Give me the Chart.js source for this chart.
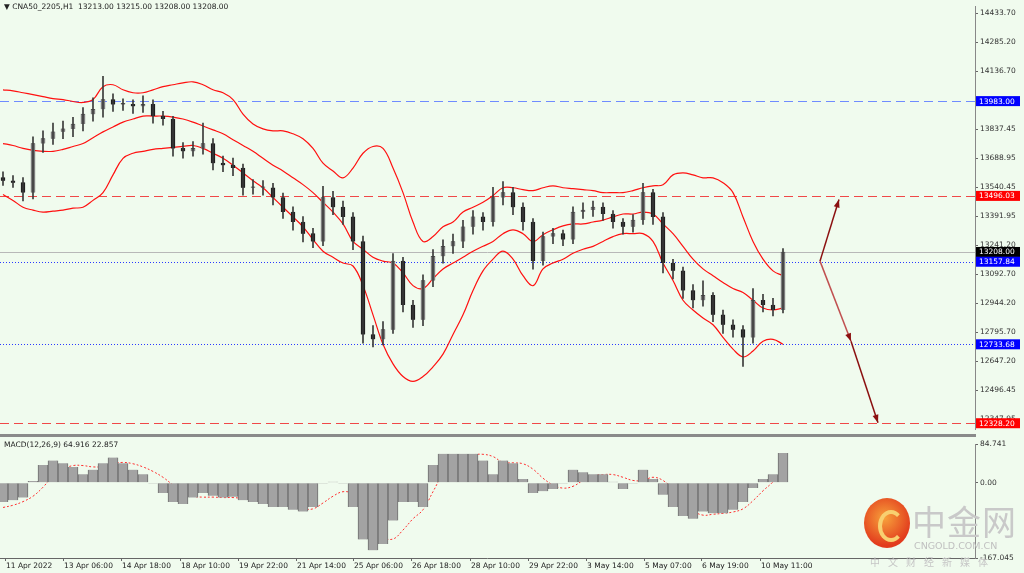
<!DOCTYPE html>
<html><head><meta charset="utf-8">
<script src="https://cdn.jsdelivr.net/npm/chart.js@4"></script>
<style>
body{margin:0;background:#f0fbee;width:1024px;height:573px;overflow:hidden;position:relative;font-family:"DejaVu Sans",sans-serif}
#c1{position:absolute;left:0;top:0}
#c2{position:absolute;left:0;top:438px}
#sep{position:absolute;left:0;top:434px;width:976px;height:3px;background:#8a8a8a}
#title{position:absolute;left:4px;top:2px;font-size:7.5px;color:#222}
#wm{position:absolute;left:860px;top:492px;width:160px;height:80px;pointer-events:none}
</style></head><body>
<canvas id="c1" width="1024" height="436"></canvas>
<div id="sep"></div>
<canvas id="c2" width="1024" height="135"></canvas>
<div id="title">▼ CNA50_2205,H1&nbsp; 13213.00 13215.00 13208.00 13208.00</div>
<div id="wm">
 <div style="position:absolute;left:4px;top:6px;width:46px;height:50px;border-radius:50%;background:radial-gradient(circle at 45% 40%,#f7a23b,#e23b1d 70%)"></div>
 <div style="position:absolute;left:18px;top:18px;width:18px;height:24px;border-radius:50%;border:4px solid #f8d070;border-right-color:transparent"></div>
 <div style="position:absolute;left:52px;top:4px;font-family:'Noto Sans CJK SC';font-size:34px;color:#c9c9c9;letter-spacing:1px">中金网</div>
 <div style="position:absolute;left:54px;top:48px;font-size:9.5px;color:#c0c0c0">CNGOLD.COM.CN</div>
 <div style="position:absolute;left:10px;top:62px;font-family:'Noto Sans CJK SC';font-size:10px;color:#c6c6c6;letter-spacing:8px">中文财经新媒体</div>
</div>
<script>
const closes=[13574,13564,13513,13765,13790,13825,13840,13865,13916,13941,13991,13966,13966,13956,13966,13906,13891,13740,13725,13740,13765,13664,13654,13639,13538,13538,13538,13488,13413,13362,13302,13262,13488,13438,13388,13262,12784,12759,12809,13161,12935,12860,13061,13186,13237,13262,13337,13388,13362,13488,13513,13438,13362,13161,13287,13302,13272,13413,13423,13438,13403,13362,13337,13372,13513,13388,13151,13111,13010,12960,12985,12885,12834,12809,12769,12960,12935,12910,13208];
const firstOpen=13590;
const highs=[13620,13600,13590,13800,13830,13870,13880,13900,13950,14000,14110,14020,13995,13990,14010,13990,13930,13905,13770,13775,13870,13790,13700,13690,13660,13580,13575,13560,13510,13440,13390,13330,13545,13520,13470,13410,13290,12830,12850,13200,13180,12960,13090,13220,13270,13300,13370,13420,13410,13540,13570,13540,13460,13380,13310,13330,13320,13440,13460,13470,13460,13420,13380,13400,13560,13530,13410,13170,13130,13040,13060,13000,12910,12860,12830,13020,12990,12970,13225];
const lows=[13550,13540,13470,13480,13720,13760,13790,13800,13830,13880,13900,13930,13935,13920,13925,13870,13860,13700,13690,13700,13710,13630,13620,13600,13500,13505,13500,13450,13380,13320,13260,13230,13240,13400,13350,13220,12740,12720,12730,12790,12900,12820,12830,13030,13150,13200,13230,13300,13320,13340,13450,13400,13320,13120,13140,13250,13240,13250,13380,13390,13370,13330,13300,13310,13350,13350,13100,13070,12970,12920,12930,12850,12790,12770,12620,12740,12900,12880,12895];
const bbUpper=[14041,14036,14026,14016,14006,13996,13991,13981,13976,13991,14057,14067,14041,14026,14026,14041,14057,14067,14077,14082,14067,14041,14026,13991,13916,13865,13840,13830,13830,13815,13790,13740,13664,13624,13589,13639,13715,13750,13740,13639,13513,13362,13262,13287,13337,13362,13413,13438,13463,13498,13538,13538,13528,13523,13538,13548,13538,13533,13528,13523,13513,13513,13513,13523,13538,13548,13553,13604,13614,13604,13589,13589,13564,13513,13388,13262,13171,13111,13086];
const bbMiddle=[13765,13755,13740,13730,13725,13725,13735,13750,13765,13795,13825,13850,13875,13891,13906,13906,13906,13901,13891,13875,13855,13835,13815,13785,13755,13725,13689,13654,13624,13589,13554,13513,13463,13413,13352,13262,13222,13181,13161,13151,13101,13035,13020,13071,13121,13151,13181,13212,13237,13262,13302,13322,13302,13262,13297,13322,13342,13352,13352,13362,13372,13388,13403,13403,13413,13403,13352,13302,13237,13171,13121,13086,13051,13020,13000,12960,12920,12910,12920];
const bbLower=[13503,13473,13438,13423,13413,13418,13423,13433,13438,13473,13513,13604,13689,13715,13725,13735,13740,13745,13750,13755,13740,13715,13689,13654,13614,13574,13538,13488,13438,13388,13337,13272,13212,13181,13151,13136,13035,12885,12734,12633,12568,12543,12568,12618,12683,12784,12885,13010,13111,13171,13212,13171,13086,13035,13121,13151,13171,13201,13222,13237,13262,13287,13302,13302,13302,13262,13151,13061,12960,12910,12869,12834,12769,12709,12669,12699,12749,12759,12734];
const macdHist=[-43,-39,-33,4,39,49,43,35,19,29,43,56,43,29,19,-2,-23,-43,-47,-33,-23,-29,-33,-31,-39,-43,-47,-54,-54,-60,-64,-54,-2,2,-2,-54,-126,-150,-136,-84,-43,-43,-54,39,64,64,64,64,49,19,49,43,8,-23,-19,-14,-2,29,23,19,19,2,-14,-2,29,8,-27,-54,-74,-80,-64,-68,-68,-60,-43,-12,8,19,66];
const macdSignal=[-55,-50,-42,-30,-10,15,30,38,38,35,36,42,45,42,35,25,12,-5,-20,-30,-32,-32,-33,-33,-35,-38,-42,-46,-50,-54,-58,-58,-45,-30,-20,-25,-50,-90,-120,-125,-105,-80,-60,-20,20,45,58,62,63,58,45,44,42,30,10,-5,-12,-8,5,15,18,18,12,5,5,12,5,-15,-40,-62,-72,-70,-68,-65,-58,-40,-18,2,30];
const priceTicks=[14433.70,14285.20,14136.70,13837.45,13688.95,13540.45,13391.95,13241.20,13092.70,12944.20,12795.70,12647.20,12496.45,12347.95];
const levels=[{v:13983.00,c:'#0000ff',line:'#6f8cff',dash:[9,5]},{v:13496.03,c:'#ff0000',line:'#f04848',dash:[9,5]},{v:13208.00,c:'#000000',line:'#b8b8b8',dash:[]},{v:13157.84,c:'#0000ff',line:'#2a3aff',dash:[1,2]},{v:12733.68,c:'#0000ff',line:'#2a3aff',dash:[1,2]},{v:12328.20,c:'#ff0000',line:'#f04848',dash:[9,5]}];
const arrowUp=[{x:81.7,y:13161},{x:83.6,y:13478}];
const arrowDown1=[{x:81.7,y:13161},{x:84.8,y:12749}];
const arrowDown2=[{x:84.8,y:12749},{x:87.5,y:12331}];
const timeLabels=['11 Apr 2022','13 Apr 06:00','14 Apr 18:00','18 Apr 10:00','19 Apr 22:00','21 Apr 14:00','25 Apr 06:00','26 Apr 18:00','28 Apr 10:00','29 Apr 22:00','3 May 14:00','5 May 07:00','6 May 19:00','10 May 11:00'];
const timeIdx=[0.2,6.0,11.8,17.7,23.5,29.3,35.0,40.8,46.7,52.5,58.3,64.1,69.8,75.7];
const macdTicks=[84.741,0,-167.045];

const opens=closes.map((c,i)=>i===0?firstOpen:closes[i-1]);
const XMIN=-0.3,XMAX=97.2;
const font='"DejaVu Sans"';

const overlay1={id:'ov1',
 beforeDatasetsDraw(ch){const {ctx,chartArea:a,scales:{y}}=ch;ctx.save();
  levels.forEach(l=>{const py=Math.round(y.getPixelForValue(l.v))+0.5;ctx.strokeStyle=l.line;ctx.lineWidth=1;ctx.setLineDash(l.dash);ctx.beginPath();ctx.moveTo(a.left,py);ctx.lineTo(a.right,py);ctx.stroke();});
  ctx.restore();},
 afterDraw(ch){const {ctx,chartArea:a,scales:{x,y}}=ch;ctx.save();
  ctx.font='7.5px '+font;ctx.textBaseline='middle';
  levels.forEach(l=>{const py=y.getPixelForValue(l.v);ctx.fillStyle=l.c;ctx.fillRect(a.right+1,py-5,44,10);ctx.fillStyle='#fff';ctx.fillText(l.v.toFixed(2),a.right+4,py+0.5);});
  const heads=[arrowUp,arrowDown1,arrowDown2];
  heads.forEach(s=>{const p0={x:x.getPixelForValue(s[0].x),y:y.getPixelForValue(s[0].y)},p1={x:x.getPixelForValue(s[1].x),y:y.getPixelForValue(s[1].y)};
   const ang=Math.atan2(p1.y-p0.y,p1.x-p0.x);ctx.fillStyle='#8b1010';ctx.beginPath();ctx.moveTo(p1.x,p1.y);
   ctx.lineTo(p1.x-8*Math.cos(ang)+3*Math.sin(ang),p1.y-8*Math.sin(ang)-3*Math.cos(ang));
   ctx.lineTo(p1.x-8*Math.cos(ang)-3*Math.sin(ang),p1.y-8*Math.sin(ang)+3*Math.cos(ang));ctx.closePath();ctx.fill();});
  ctx.restore();}};

const line=(d,col,w)=>({type:'line',data:d,borderColor:col,borderWidth:w,pointRadius:0,tension:0.4,fill:false});
new Chart(document.getElementById('c1'),{
 data:{datasets:[
  {type:'bar',data:highs.map((h,i)=>({x:i,y:[lows[i],h]})),backgroundColor:'#3a3a3a',barThickness:1,grouped:false},
  {type:'bar',data:closes.map((c,i)=>({x:i,y:[opens[i],c]})),backgroundColor:closes.map((c,i)=>c>=opens[i]?'#8c8c8c':'#1a1a1a'),borderColor:'#2a2a2a',borderWidth:0.5,barThickness:4,minBarLength:1,grouped:false},
  line(bbUpper.map((v,i)=>({x:i,y:v})),'#ff1010',1.2),
  line(bbMiddle.map((v,i)=>({x:i,y:v})),'#ff1010',1.2),
  line(bbLower.map((v,i)=>({x:i,y:v})),'#ff1010',1.2),
  {...line(arrowUp,'#8b1010',1.5),tension:0},
  {...line(arrowDown1,'#c05050',1.5),tension:0},
  {...line(arrowDown2,'#8b1010',1.5),tension:0}
 ]},
 options:{responsive:false,animation:false,events:[],layout:{padding:{top:0,bottom:3,left:0,right:0}},
  plugins:{legend:{display:false},tooltip:{enabled:false}},
  scales:{
   x:{type:'linear',min:XMIN,max:XMAX,offset:false,display:false},
   y:{position:'right',min:12296,max:14469,grid:{drawOnChartArea:false,tickLength:3,color:'#666'},border:{color:'#888',width:1},
    afterBuildTicks(s){s.ticks=priceTicks.map(v=>({value:v}));},
    afterFit(s){s.width=49;},
    ticks:{autoSkip:false,padding:2,color:'#333',font:{size:7.5,family:'DejaVu Sans'},callback:v=>v.toFixed(2)}}
  }},
 plugins:[overlay1]});

const overlay2={id:'ov2',afterDraw(ch){const {ctx,chartArea:a,scales:{x}}=ch;ctx.save();ctx.font='7.5px '+font;ctx.fillStyle='#222';ctx.textBaseline='top';
  ctx.fillText('MACD(12,26,9) 64.916 22.857',4,3);
  ctx.strokeStyle='#666';ctx.beginPath();ctx.moveTo(0,a.bottom+0.5);ctx.lineTo(a.right,a.bottom+0.5);ctx.stroke();
  timeLabels.forEach((t,i)=>{const px=x.getPixelForValue(timeIdx[i]);ctx.beginPath();ctx.moveTo(px+0.5,a.bottom);ctx.lineTo(px+0.5,a.bottom+3);ctx.stroke();ctx.fillText(t,px+1,a.bottom+4);});
  ctx.restore();}};
new Chart(document.getElementById('c2'),{
 data:{datasets:[
  {type:'bar',data:macdHist.map((v,i)=>({x:i,y:v})),backgroundColor:'#a3a3a3',borderColor:'#6e6e6e',borderWidth:{left:1,right:1,top:0,bottom:0},barThickness:10,grouped:false},
  {type:'line',data:macdSignal.map((v,i)=>({x:i,y:v})),borderColor:'#ff3030',borderWidth:1,borderDash:[2,2],pointRadius:0,tension:0.4}
 ]},
 options:{responsive:false,animation:false,events:[],layout:{padding:{top:2,bottom:15}},
  plugins:{legend:{display:false},tooltip:{enabled:false}},
  scales:{
   x:{type:'linear',min:XMIN,max:XMAX,offset:false,display:false},
   y:{position:'right',min:-167.045,max:84.741,grid:{drawOnChartArea:false,tickLength:3,color:'#666'},border:{color:'#888'},
    afterBuildTicks(s){s.ticks=macdTicks.map(v=>({value:v}));},
    afterFit(s){s.width=49;},
    ticks:{autoSkip:false,padding:2,color:'#333',font:{size:7.5,family:'DejaVu Sans'},callback:v=>v===0?'0.00':String(v)}}
  }},
 plugins:[overlay2]});
</script>
</body></html>
